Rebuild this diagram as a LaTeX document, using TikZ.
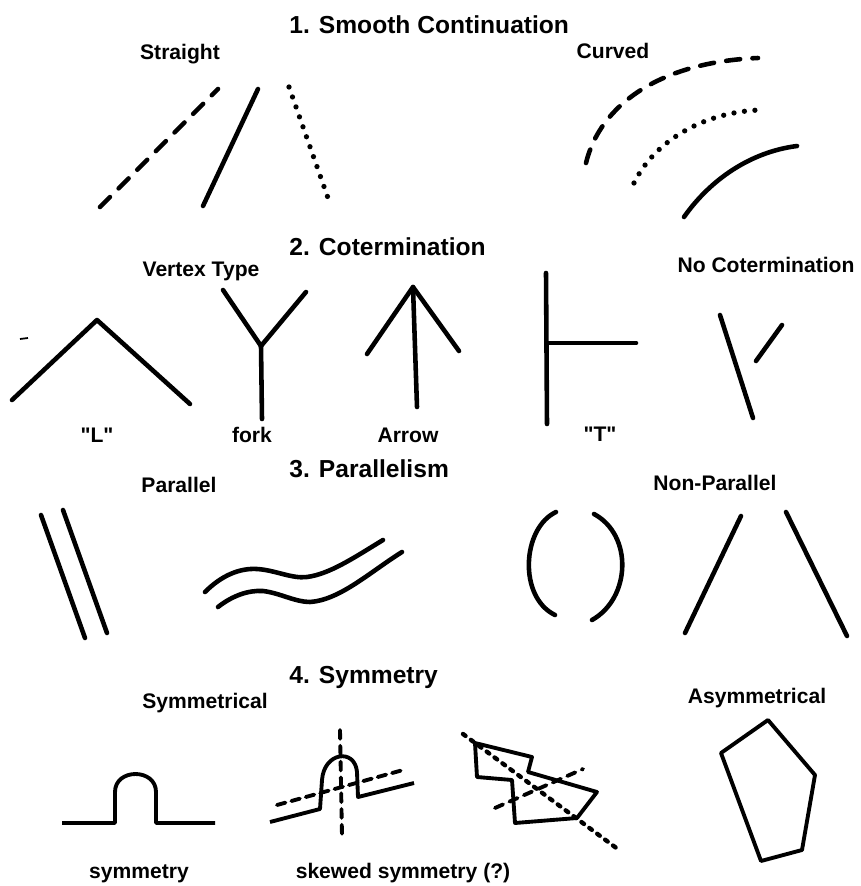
\documentclass[tikz,border=0pt]{standalone}
\usepackage{fontspec}
\setmainfont{Liberation Sans}
\newfontfamily\plainquotes{Liberation Sans}[Ligatures=TeXOff]

\tikzset{
  sectitle/.style={anchor=base west,inner sep=0pt,font=\bfseries\fontsize{14}{16}\selectfont},
  lbl/.style={anchor=base,inner sep=0pt,font=\bfseries\fontsize{12}{14}\selectfont},
  stroke/.style={line width=2.6pt,line cap=round,line join=round},
  dashstroke/.style={stroke,dash pattern=on 8pt off 7pt},
  dotstroke/.style={stroke,line width=3pt,dash pattern=on 0pt off 6pt},
  axisstroke/.style={line width=2.2pt,line cap=round,dash pattern=on 5pt off 4pt},
  outline/.style={line width=2.2pt,line join=round}
}

\begin{document}
\begin{tikzpicture}[x=0.02cm,y=-0.02cm]
\useasboundingbox (0,0) rectangle (861,886);

% 1. smooth continuation
\node[sectitle] (t1) at (289,33) {1. Smooth Continuation};
\node[lbl] (straight) at (180,59) {Straight};
\node[lbl] (curved) at (613,58) {Curved};
\draw[dashstroke] (100,207)--(218,89);
\draw[stroke] (203,206)--(258,89);
\draw[dotstroke] (289,87)--(328,198);
\draw[dashstroke] (586,163) .. controls (600,105) and (660,62) .. (758,58);
\draw[dotstroke] (634,183) .. controls (655,140) and (705,112) .. (760,110);
\draw[stroke] (684,217) .. controls (710,180) and (750,152) .. (797,146);

% 2. cotermination
\node[sectitle] (t2) at (289,255) {2. Cotermination};
\node[lbl] (vertex) at (201,276) {Vertex Type};
\node[lbl] (nocot) at (766,272) {No Cotermination};
\draw[line width=1pt] (20,339)--(28,338);
\draw[stroke] (12,400)--(97,320)--(190,404);
\draw[stroke] (223,290)--(261,346)--(306,292);
\draw[stroke] (261,346)--(262,419);
\draw[stroke] (367,354)--(413,287)--(459,351);
\draw[stroke] (413,287)--(417,407);
\draw[stroke] (546,273)--(547,424);
\draw[stroke] (547,343)--(636,343);
\draw[stroke] (720,315)--(753,418);
\draw[stroke] (756,361)--(782,325);
\node[lbl] (lvert) at (97,442) {\plainquotes"L"};
\node[lbl] (fork) at (252,442) {fork};
\node[lbl] (arrow) at (408,442) {Arrow};
\node[lbl] (tvert) at (600,441) {\plainquotes"T"};

% 3. parallelism
\node[sectitle] (t3) at (289,477) {3. Parallelism};
\node[lbl] (parallel) at (179,492) {Parallel};
\node[lbl] (nonpar) at (715,490) {Non-Parallel};
\draw[stroke] (41,515)--(85,638);
\draw[stroke] (63,510)--(107,633);
\draw[stroke] (205,592) .. controls (222,575) and (240,568) .. (257,569) .. controls (275,570) and (292,579) .. (307,577) .. controls (330,574) and (355,557) .. (383,540);
\draw[stroke] (218,607) .. controls (232,596) and (248,590) .. (263,591) .. controls (280,593) and (295,602) .. (310,602) .. controls (340,600) and (370,572) .. (402,552);
\draw[stroke] (556,512) .. controls (522,528) and (518,597) .. (555,615);
\draw[stroke] (594,514) .. controls (633,535) and (631,598) .. (592,620);
\draw[stroke] (685,633)--(741,516);
\draw[stroke] (786,512)--(847,636);

% 4. symmetry
\node[sectitle] (t4) at (289,683) {4. Symmetry};
\node[lbl] (symm) at (205,708) {Symmetrical};
\node[lbl] (asymm) at (757,703) {Asymmetrical};
\draw[outline] (62,823)--(115,823)--(115,792) .. controls (115,768) and (156,768) .. (156,792)--(156,823)--(215,823);
\draw[outline] (270,822)--(320,809)--(322,780) .. controls (324,752) and (355,748) .. (357,772)--(358,797)--(414,783);
\draw[axisstroke] (340,730)--(342,836);
\draw[axisstroke,dash pattern=on 5pt off 3.5pt] (277,805)--(403,770);
\draw[outline] (475,743)--(532,757)--(528,772)--(597,792)--(577,818)--(515,823)--(512,780)--(477,777)--cycle;
\draw[stroke,line width=2.5pt,dash pattern=on 1.8pt off 3.8pt] (463,734)--(619,850);
\draw[axisstroke] (495,808)--(583,769);
\draw[outline] (768,720)--(815,775)--(802,850)--(761,861)--(721,753)--cycle;
\node[lbl] (symmetry) at (139,878) {symmetry};
\node[lbl] (skewed) at (403,878) {skewed symmetry (?)};
\end{tikzpicture}
\end{document}
